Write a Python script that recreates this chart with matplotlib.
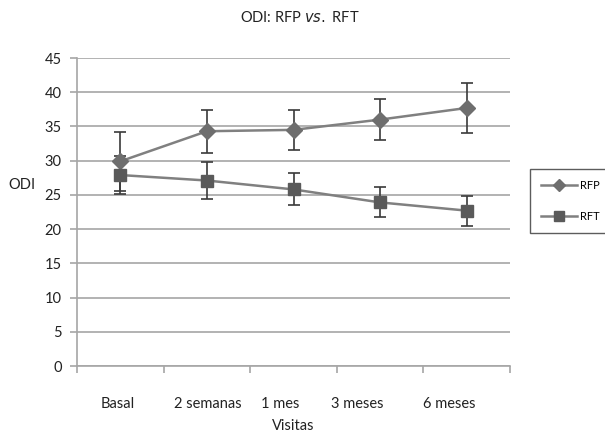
import matplotlib
matplotlib.use("Agg")
import matplotlib.pyplot as plt
import matplotlib.transforms as mtransforms
import numpy as np

categories = ["Basal", "2 semanas", "1 mes", "3 meses", "6 meses"]
rfp = [29.9, 34.3, 34.5, 36.0, 37.7]
rfp_err = [4.3, 3.15, 2.9, 3.05, 3.7]
rft = [27.9, 27.1, 25.8, 23.9, 22.7]
rft_err = [2.75, 2.65, 2.35, 2.2, 2.2]
yticks = [0, 5, 10, 15, 20, 25, 30, 35, 40, 45]

plt.rcParams['font.family'] = ['Lato', 'DejaVu Sans']

fig = plt.figure(figsize=(6.05, 4.37), dpi=100)
ax = fig.add_axes([77/605, 1-366/437, (510-77)/605, (366-58)/437])

x = np.arange(len(categories))
line_col = '#808080'
c1 = ax.errorbar(x, rfp, yerr=rfp_err, color=line_col, lw=1.8, marker='D', ms=8,
                 mfc='#6e6e6e', mec='#6e6e6e', ecolor='#3a3a3a', elinewidth=1.2,
                 capsize=4, capthick=1.2, label='RFP', zorder=3)
c2 = ax.errorbar(x, rft, yerr=rft_err, color=line_col, lw=1.8, marker='s', ms=9,
                 mfc='#5a5a5a', mec='#5a5a5a', ecolor='#3a3a3a', elinewidth=1.2,
                 capsize=4, capthick=1.2, label='RFT', zorder=3)

ax.set_xlim(-0.5, len(categories)-0.5)
ax.set_ylim(0, 45)
ax.set_yticks(yticks)
ax.yaxis.grid(True, color='#a6a6a6', lw=1.2)
ax.set_axisbelow(True)
for s in ['top', 'right']:
    ax.spines[s].set_visible(False)
for s in ['left', 'bottom']:
    ax.spines[s].set_color('#a6a6a6')
    ax.spines[s].set_linewidth(1.2)
ax.tick_params(axis='y', colors='#a6a6a6', labelcolor='#222222', labelsize=10.5,
               length=5, width=1.2, pad=6)

# category boundaries as ticks, labels at centers
ax.set_xticks(np.arange(-0.5, len(categories)), minor=True)
ax.set_xticks(x)
ax.set_xticklabels(categories, fontsize=10.5, color='#222222')
ax.tick_params(axis='x', which='major', length=0, pad=22)
ax.tick_params(axis='x', which='minor', length=5, width=1.2, colors='#a6a6a6')
offsets = [-3, 1, -13, -23, -17]
for lab, dx in zip(ax.get_xticklabels(), offsets):
    lab.set_transform(lab.get_transform() + mtransforms.ScaledTranslation(dx/100, 0, fig.dpi_scale_trans))

ax.set_xlabel("Visitas", fontsize=10.5, color='#222222', labelpad=6)
fig.text(8/605, 1-185/437, "ODI", fontsize=10.5, color='#222222', ha='left', va='center')
fig.text(300/605, 1-17/437, "ODI: RFP $\\it{vs.}$ RFT", fontsize=10.5, color='#222222',
         ha='center', va='center')

leg = ax.legend([c1[0], c2[0]], ['RFP', 'RFT'], loc='upper left',
                bbox_to_anchor=(530/605, 1-169/437),
                bbox_transform=fig.transFigure, frameon=True, fancybox=False,
                fontsize=8, handlelength=3.2, borderpad=1.0, labelspacing=1.8,
                handletextpad=0.3, borderaxespad=0, markerscale=0.75)
leg.get_frame().set_edgecolor('#333333')
leg.get_frame().set_linewidth(1.0)

fig.savefig("out.png", dpi=100)
